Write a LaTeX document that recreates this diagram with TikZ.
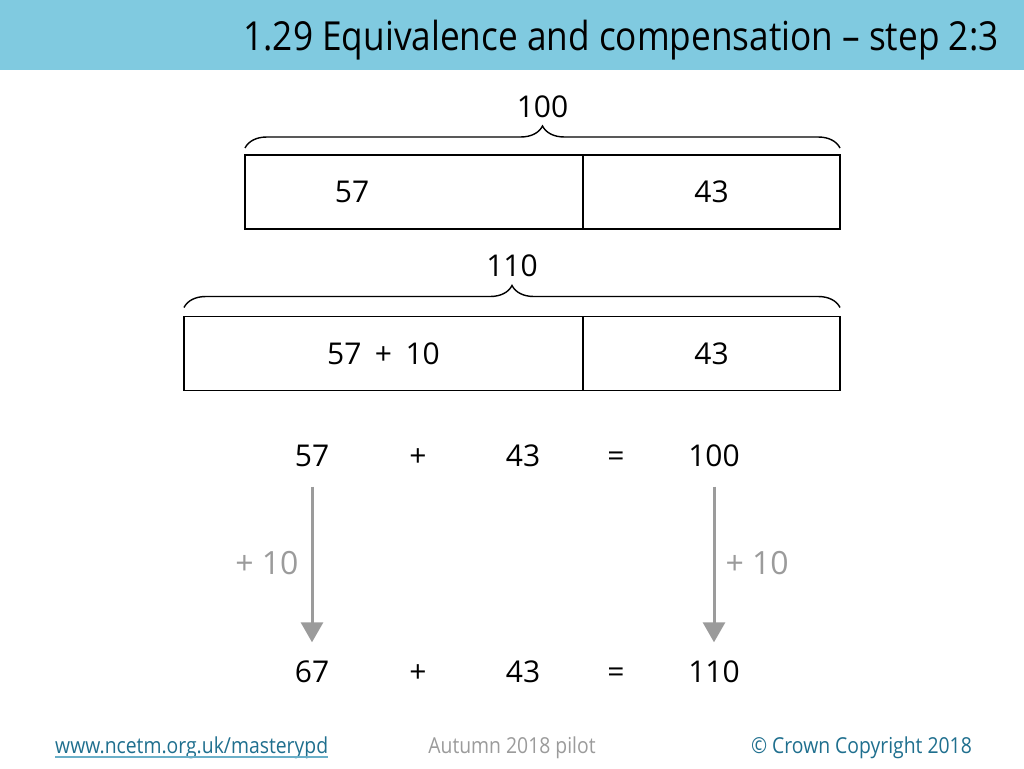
\documentclass[tikz,border=0pt]{standalone}
\usepackage{fontspec}
\setmainfont{Open Sans}
\newfontfamily\narrowfont[FakeStretch=0.88]{Open Sans}
\usepackage{tikz}
\usetikzlibrary{positioning,decorations.pathreplacing,arrows.meta}
\definecolor{header}{HTML}{80CAE0}
\definecolor{ncetm}{HTML}{1F6F8E}
\definecolor{ncetmline}{HTML}{6AAFC8}
\definecolor{pale}{HTML}{9B9B9B}

\begin{document}
\begin{tikzpicture}[x=1pt,y=-1pt,
    bar/.style={draw, line width=1.6pt, minimum height=74pt, inner sep=0pt, outer sep=0pt},
    num/.style={inner sep=0pt, text height=21pt, text depth=0pt, font=\fontsize{30}{36}\selectfont},
    brace/.style={decorate, decoration={brace, amplitude=22pt}, line width=1.4pt},
    step arrow/.style={draw=pale, line width=3pt, -{Triangle[width=22pt,length=20pt]}},
    change/.style={num, text=pale, font=\fontsize{32}{38}\selectfont},
    foot/.style={anchor=base, inner xsep=0pt, font=\narrowfont\fontsize{22}{26}\selectfont}]
    \useasboundingbox (0,0) rectangle (1024,768);
    % header
    \fill[header] (0,0) rectangle (1024,70);
    \node[anchor=base east, font=\narrowfont\fontsize{40}{48}\selectfont] (title) at (1002,50)
        {1.29 Equivalence and compensation – step 2:3};

    % first bar model
    \node[bar, minimum width=338pt] (bar1a) at (414,192) {};
    \node[bar, minimum width=257pt, right=0pt of bar1a] (bar1b) {};
    \node[num] (t57) at (352,192) {57};
    \node[num] (t43) at (bar1b) {43};
    \draw[brace] ([yshift=7pt]bar1a.north west) -- ([yshift=7pt]bar1b.north east)
        node[num, midway, above=30pt] (t100) {100};

    % second bar model
    \node[bar, minimum width=399pt] (bar2a) at (383.5,353.5) {};
    \node[bar, minimum width=257pt, right=0pt of bar2a] (bar2b) {};
    \node[num] (t5710) at (bar2a) {57\hspace{0.45em}+\hspace{0.45em}10};
    \node[num] (t43b) at (bar2b) {43};
    \draw[brace] ([yshift=9pt]bar2a.north west) -- ([yshift=9pt]bar2b.north east)
        node[num, midway, above=30pt] (t110) {110};

    % equations
    \node[num] (e57) at (312,456) {57};
    \node[num] (ep) at (418,456) {+};
    \node[num] (e43) at (523,456) {43};
    \node[num] (eq) at (616,456) {=};
    \node[num] (e100) at (714,456) {100};
    \node[num] (f67) at (312,672) {67};
    \node[num] (fp) at (418,672) {+};
    \node[num] (f43) at (523,672) {43};
    \node[num] (fq) at (616,672) {=};
    \node[num] (f110) at (714,672) {110};
    \draw[step arrow, shorten <=20pt, shorten >=19pt] (e57) -- (f67)
        node[change, midway, left=12pt] (add1) {+ 10};
    \draw[step arrow, shorten <=20pt, shorten >=19pt] (e100) -- (f110)
        node[change, midway, right=10pt] (add2) {+ 10};

    % footer
    \node[foot, anchor=base west, text=ncetm] (url) at (55,753) {www.ncetm.org.uk/masterypd};
    \draw[ncetmline, line width=1.5pt] ([yshift=-4pt]url.base west) -- ([yshift=-4pt]url.base east);
    \node[foot, text=pale] (pilot) at (512,753) {Autumn 2018 pilot};
    \node[foot, anchor=base east, text=ncetm] (crown) at (972,753) {© Crown Copyright 2018};
\end{tikzpicture}
\end{document}
